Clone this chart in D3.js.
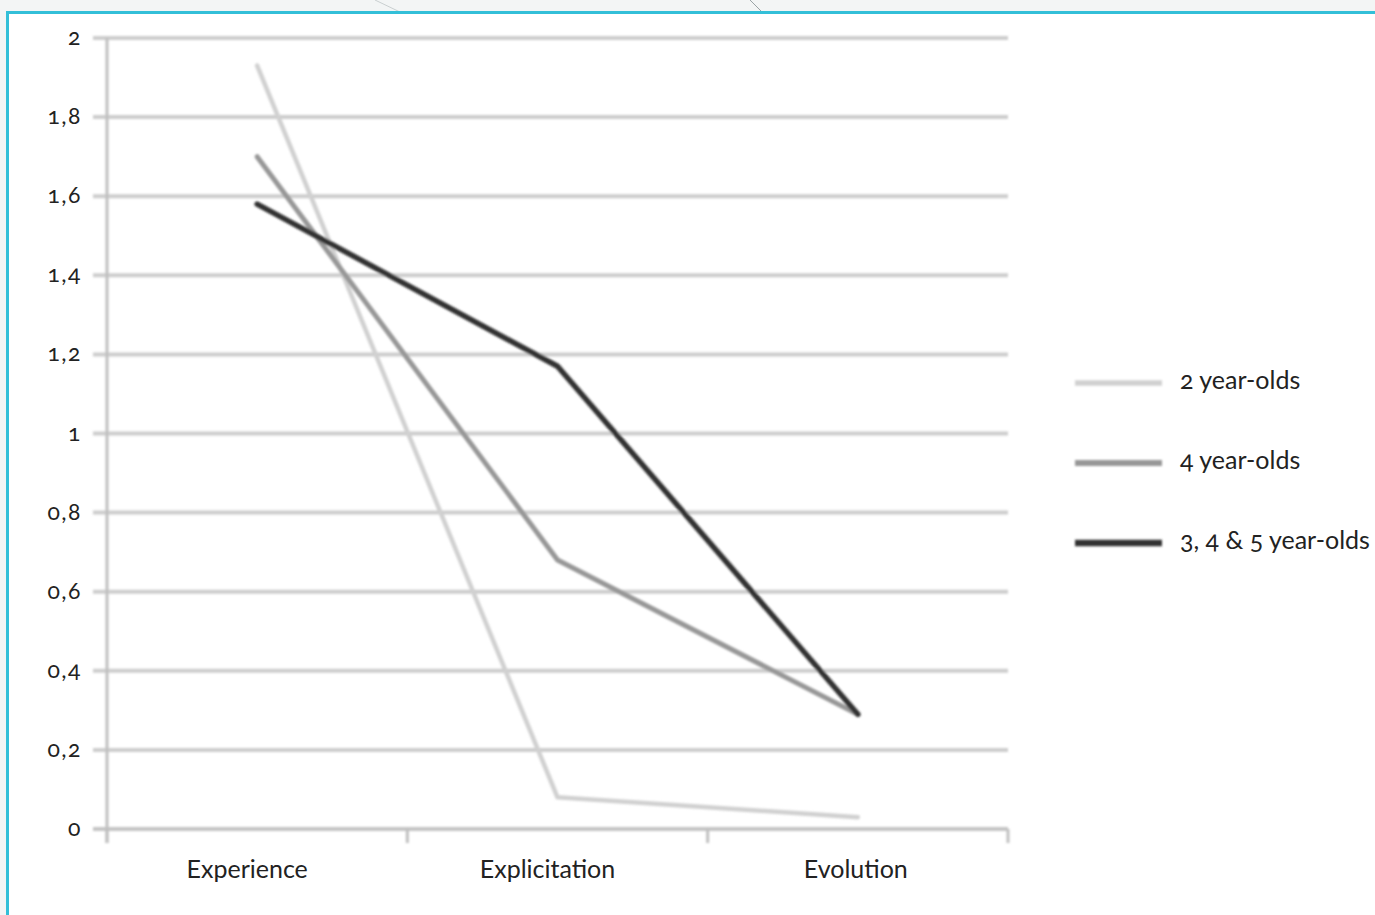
<!DOCTYPE html>
<html>
<head>
<meta charset="utf-8">
<script src="https://cdn.jsdelivr.net/npm/d3@7"></script>
<style>
  html,body{margin:0;padding:0;background:#f3f5f5;}
  svg{display:block;font-family:Lato,"Open Sans",sans-serif;font-feature-settings:"onum" 1;}
</style>
</head>
<body>
<div id="chart"></div>
<script>
const categories=["Experience","Explicitation","Evolution"];
const seriesNames=["2 year-olds","4 year-olds","3, 4 & 5 year-olds"];
const twoYear=[1.93,0.08,0.03];
const fourYear=[1.7,0.68,0.29];
const allAges=[1.58,1.17,0.29];
const yTicks=[0,0.2,0.4,0.6,0.8,1,1.2,1.4,1.6,1.8,2];

const W=1375,H=915;
const svg=d3.select("#chart").append("svg").attr("width",W).attr("height",H);

// page background with a faint hint of the surrounding layout
svg.append("rect").attr("width",W).attr("height",H).attr("fill","#f3f5f5");
svg.append("line").attr("x1",375).attr("y1",0).attr("x2",400).attr("y2",12).attr("stroke","#c9cfd0").attr("stroke-width",1);
svg.append("line").attr("x1",750).attr("y1",0).attr("x2",762).attr("y2",12).attr("stroke","#9aa3a5").attr("stroke-width",1);
svg.append("rect").attr("x",7.5).attr("y",12.5).attr("width",W).attr("height",H)
  .attr("fill","#fff").attr("stroke","#33bfd8").attr("stroke-width",3);

const x=d3.scaleBand().domain(categories).range([107,1008]);
const y=d3.scaleLinear().domain([0,2]).range([829,38]);

const blur=svg.append("defs").append("filter").attr("id","soft");
blur.append("feGaussianBlur").attr("stdDeviation",1.1);

const g=svg.append("g").attr("filter","url(#soft)");

// gridlines + left ticks
g.selectAll(".grid").data(yTicks).join("line")
  .attr("x1",93).attr("x2",1008)
  .attr("y1",d=>y(d)).attr("y2",d=>y(d))
  .attr("stroke",d=>d===0?"#c4c4c4":"#cdcdcd").attr("stroke-width",4);

// y axis line
g.append("line").attr("x1",107).attr("x2",107).attr("y1",y(2)).attr("y2",843)
  .attr("stroke","#c0c0c0").attr("stroke-width",3);

// category boundary ticks
const bounds=categories.map(c=>x(c)).concat([x.range()[1]]);
g.selectAll(".xt").data(bounds).join("line")
  .attr("x1",d=>d).attr("x2",d=>d).attr("y1",y(0)).attr("y2",843)
  .attr("stroke","#c0c0c0").attr("stroke-width",3);

const series=[
  {name:seriesNames[0],values:twoYear,color:"#d0d0d0",width:4.5},
  {name:seriesNames[1],values:fourYear,color:"#979797",width:5},
  {name:seriesNames[2],values:allAges,color:"#303030",width:5.5}
];
const line=d3.line().x((d,i)=>x(categories[i])+x.bandwidth()/2).y(d=>y(d));
g.selectAll(".series").data(series).join("path")
  .attr("d",s=>line(s.values))
  .attr("fill","none").attr("stroke",s=>s.color).attr("stroke-width",s=>s.width)
  .attr("stroke-linejoin","round").attr("stroke-linecap","round");

// legend lines
const legY=[383,463,543];
g.selectAll(".leg").data(series).join("line")
  .attr("x1",1075).attr("x2",1162)
  .attr("y1",(d,i)=>legY[i]).attr("y2",(d,i)=>legY[i])
  .attr("stroke",s=>s.color).attr("stroke-width",s=>s.width+1);

// text
svg.selectAll(".ylab").data(yTicks).join("text")
  .attr("x",82).attr("y",d=>y(d)+7)
  .attr("text-anchor","end").attr("font-size",23).attr("letter-spacing",1.5).attr("fill","#222")
  .text(d=>String(d).replace(".",","));

svg.selectAll(".xlab").data(categories).join("text")
  .attr("x",(d,i)=>x(d)+x.bandwidth()/2-[10,10,2][i]).attr("y",878)
  .attr("text-anchor","middle").attr("font-size",25).attr("fill","#222")
  .text(d=>d);

svg.selectAll(".legt").data(series).join("text")
  .attr("x",1180).attr("y",(d,i)=>legY[i]+6)
  .attr("font-size",25).attr("fill","#222")
  .text(s=>s.name);
</script>
</body>
</html>
